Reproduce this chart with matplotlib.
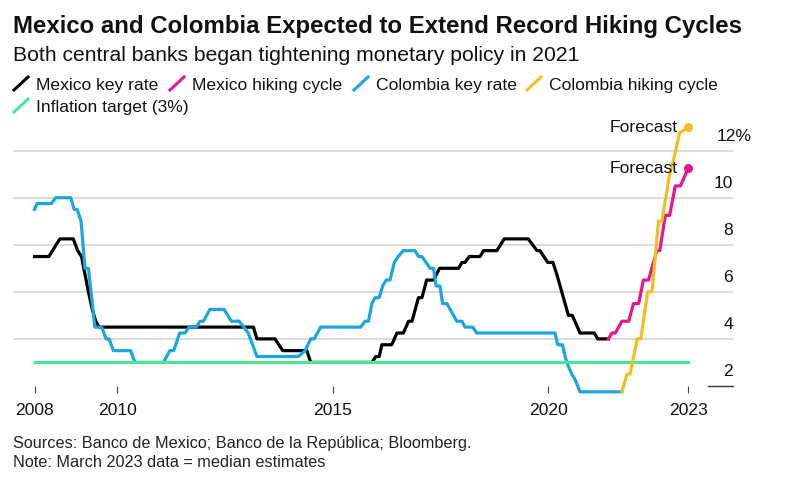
import matplotlib
matplotlib.use('Agg')
import matplotlib.pyplot as plt
from matplotlib.lines import Line2D

plt.rcParams['font.family'] = ['Liberation Sans', 'DejaVu Sans']

W, H = 785, 484

mex_x = [2008.08, 2008.41, 2008.5, 2008.58, 2008.67, 2008.98, 2009.08, 2009.17, 2009.25, 2009.33, 2009.42, 2009.5,
         2009.58, 2013.16, 2013.24, 2013.66, 2013.84, 2014.40, 2014.49, 2015.91, 2016.0, 2016.08, 2016.14, 2016.37,
         2016.49, 2016.64, 2016.76, 2016.84, 2016.99, 2017.07, 2017.18, 2017.34, 2017.48, 2017.92, 2018.0, 2018.07,
         2018.17, 2018.42, 2018.5, 2018.81, 2018.98, 2019.54, 2019.74, 2019.81, 2019.99, 2020.11, 2020.2, 2020.47,
         2020.56, 2020.74, 2021.07, 2021.15, 2021.40]
mex_y = [7.5, 7.5, 7.75, 8.0, 8.25, 8.25, 7.75, 7.5, 6.75, 6.0, 5.25, 4.75,
         4.5, 4.5, 4.0, 4.0, 3.5, 3.5, 3.0, 3.0, 3.25, 3.25, 3.75, 3.75,
         4.25, 4.25, 4.75, 4.75, 5.75, 5.75, 6.5, 6.5, 7.0, 7.0, 7.25, 7.25,
         7.5, 7.5, 7.75, 7.75, 8.25, 8.25, 7.75, 7.75, 7.25, 7.25, 6.75, 5.0,
         5.0, 4.25, 4.25, 4.0, 4.0]

mex_hike_x = [2021.40, 2021.48, 2021.56, 2021.71, 2021.87, 2021.98, 2022.10, 2022.21, 2022.33, 2022.52, 2022.59,
              2022.72, 2022.82, 2022.95, 2023.07, 2023.25]
mex_hike_y = [4.0, 4.25, 4.25, 4.75, 4.75, 5.5, 5.5, 6.5, 6.5, 7.75, 7.75,
              9.25, 9.25, 10.5, 10.5, 11.25]

col_x = [2008.08, 2008.14, 2008.47, 2008.57, 2008.92, 2009.0, 2009.07, 2009.16, 2009.25, 2009.33, 2009.48, 2009.64,
         2009.74, 2009.81, 2009.91, 2010.31, 2010.41, 2011.07, 2011.22, 2011.31, 2011.45, 2011.57, 2011.67, 2011.84,
         2011.92, 2012.0, 2012.15, 2012.48, 2012.65, 2012.83, 2013.04, 2013.24, 2014.2, 2014.36, 2014.49, 2014.57,
         2014.72, 2015.65, 2015.75, 2015.83, 2015.91, 2015.98, 2016.08, 2016.16, 2016.24, 2016.33, 2016.43, 2016.52,
         2016.64, 2016.91, 2016.99, 2017.07, 2017.26, 2017.34, 2017.4, 2017.49, 2017.55, 2017.65, 2017.88, 2018.0,
         2018.07, 2018.25, 2018.34, 2020.16, 2020.22, 2020.33, 2020.43, 2020.55, 2020.63, 2020.74, 2021.71]
col_y = [9.5, 9.75, 9.75, 10.0, 10.0, 9.5, 9.5, 9.0, 7.0, 7.0, 4.5, 4.5,
         4.0, 4.0, 3.5, 3.5, 3.0, 3.0, 3.5, 3.5, 4.25, 4.25, 4.5, 4.5,
         4.75, 4.75, 5.25, 5.25, 4.75, 4.75, 4.25, 3.25, 3.25, 3.5, 4.0, 4.0,
         4.5, 4.5, 4.75, 4.75, 5.5, 5.75, 5.75, 6.25, 6.5, 6.5, 7.25, 7.5,
         7.75, 7.75, 7.5, 7.5, 7.0, 7.0, 6.25, 6.25, 5.5, 5.5, 4.75, 4.75,
         4.5, 4.5, 4.25, 4.25, 3.75, 3.75, 3.0, 2.5, 2.25, 1.75, 1.75]

col_hike_x = [2021.71, 2021.83, 2021.90, 2022.07, 2022.15, 2022.31, 2022.41, 2022.56, 2022.64, 2022.82, 2022.91,
              2023.05, 2023.25]
col_hike_y = [1.75, 2.5, 2.5, 4.0, 4.0, 6.0, 6.0, 9.0, 9.0, 11.0, 11.6,
              12.75, 13.0]

target_x = [2008.08, 2023.25]
target_y = [3, 3]

x_ticks = [2008.08, 2010, 2015, 2020, 2023.25]
x_labels = ['2008', '2010', '2015', '2020', '2023']
y_grid = [4, 6, 8, 10, 12]
y_labels = ['2', '4', '6', '8', '10', '12%']

BLACK = '#000000'
PINK = '#e5178a'
BLUE = '#1ba6e1'
YELLOW = '#f0c020'
GREEN = '#4be59a'
GRID = '#dcdcdc'
FS = 12.6

fig = plt.figure(figsize=(W / 100, H / 100), dpi=100)


def fx(px):
    return px / W


def fy(py):
    return 1 - py / H


# axes box is set from the pixel positions of the gridlines
ax = fig.add_axes([fx(13), fy(393), fx(733 - 13), fy(122.4) - fy(393)])
ax.set_xlim(2007.58, 2024.29)
ax.set_ylim(1.70, 13.2)
for s in ax.spines.values():
    s.set_visible(False)
ax.patch.set_alpha(0)

for v in y_grid:
    ax.axhline(v, color=GRID, lw=1.5, zorder=1)
# short baseline next to the "2" label
ax.plot([2023.72, 2024.29], [2, 2], color='#333333', lw=1, zorder=1, clip_on=False)

lw = 2.3
ax.plot(mex_x, mex_y, color=BLACK, lw=lw, zorder=2, solid_joinstyle='round')
ax.plot(col_x, col_y, color=BLUE, lw=lw, zorder=3, solid_joinstyle='round', clip_on=False)
ax.plot(target_x, target_y, color=GREEN, lw=lw, zorder=4)
ax.plot(mex_hike_x, mex_hike_y, color=PINK, lw=lw, zorder=5, solid_joinstyle='round')
ax.plot(col_hike_x, col_hike_y, color=YELLOW, lw=lw, zorder=6, solid_joinstyle='round', clip_on=False)
ax.plot(mex_hike_x[-1], mex_hike_y[-1], 'o', color=PINK, ms=6.5, zorder=7, mew=0, clip_on=False)
ax.plot(col_hike_x[-1], col_hike_y[-1], 'o', color=YELLOW, ms=6.5, zorder=7, mew=0, clip_on=False)

ax.set_xticks(x_ticks)
ax.set_xticklabels(x_labels, fontsize=FS, color='#111111')
ax.tick_params(axis='x', direction='in', length=5, width=0.8, color='#444444', pad=7.5)
ax.set_yticks([])

ax.text(2023.0, mex_hike_y[-1], 'Forecast', ha='right', va='center', fontsize=FS, color='#111111', zorder=8)
ax.text(2023.0, col_hike_y[-1], 'Forecast', ha='right', va='center', fontsize=FS, color='#111111', zorder=8)

for v, lab in zip([2] + y_grid, y_labels):
    # 12% hangs past the right edge, the numbers line up on the edge
    if lab.endswith('%'):
        ax.text(2023.91, v + 0.3, lab, ha='left', va='bottom', fontsize=FS, color='#111111', clip_on=False)
    else:
        ax.text(2024.29, v + 0.3, lab, ha='right', va='bottom', fontsize=FS, color='#111111', clip_on=False)

fig.text(fx(13), fy(32.5), 'Mexico and Colombia Expected to Extend Record Hiking Cycles',
         fontsize=17.3, fontweight='bold', color='#111111', va='baseline')
fig.text(fx(13), fy(61.5), 'Both central banks began tightening monetary policy in 2021',
         fontsize=15.2, color='#111111', va='baseline')

legend_items = [('Mexico key rate', BLACK, 14, 90), ('Mexico hiking cycle', PINK, 170, 90),
                ('Colombia key rate', BLUE, 354, 90), ('Colombia hiking cycle', YELLOW, 527, 90),
                ('Inflation target (3%)', GREEN, 14, 112)]
for name, c, px, py in legend_items:
    fig.add_artist(Line2D([fx(px), fx(px + 14)], [fy(py), fy(py - 13)], color=c, lw=2.2))
    fig.text(fx(px + 22), fy(py), name, fontsize=FS, color='#111111', va='baseline')

fig.text(fx(13), fy(448), 'Sources: Banco de Mexico; Banco de la República; Bloomberg.', fontsize=11.7,
         color='#222222', va='baseline')
fig.text(fx(13), fy(467), 'Note: March 2023 data = median estimates', fontsize=11.7, color='#222222', va='baseline')

fig.savefig('out.png', dpi=100)
